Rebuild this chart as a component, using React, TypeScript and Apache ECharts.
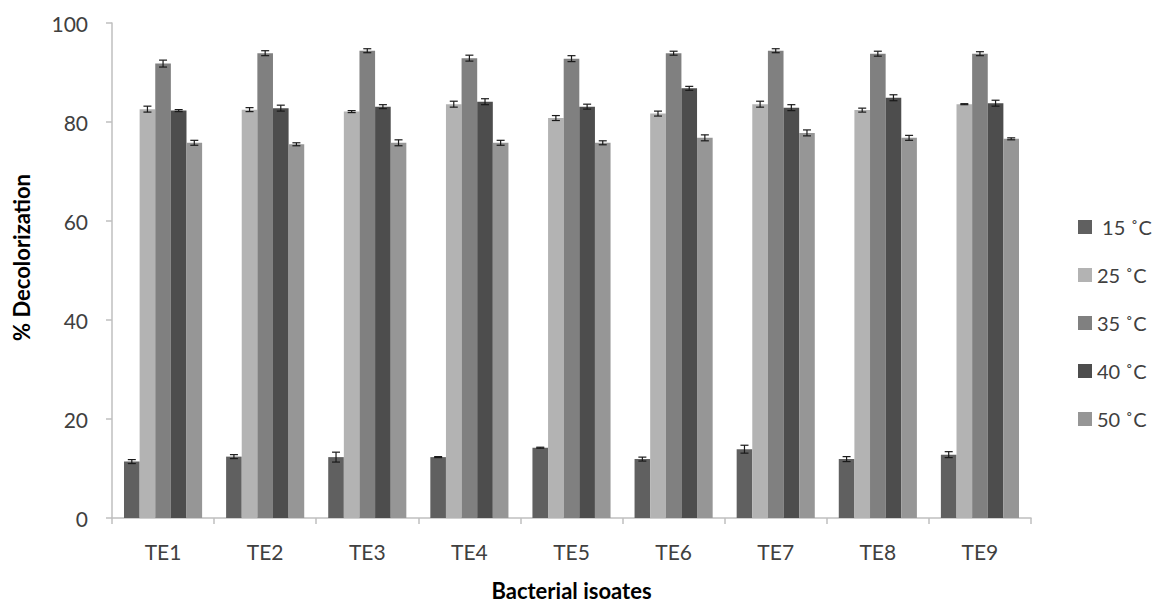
import React, { useEffect, useRef } from "react";
import * as echarts from "echarts";

const categories = ["TE1", "TE2", "TE3", "TE4", "TE5", "TE6", "TE7", "TE8", "TE9"];
const seriesNames = [" 15 ˚C", "25 ˚C", "35 ˚C", "40 ˚C", "50 ˚C"];
const colors = ["#606060", "#b3b3b3", "#808080", "#4d4d4d", "#969696"];

const v15 = [11.4, 12.4, 12.3, 12.3, 14.2, 11.9, 13.9, 11.9, 12.8];
const v25 = [82.6, 82.5, 82.1, 83.6, 80.8, 81.7, 83.6, 82.4, 83.6];
const v35 = [91.8, 93.9, 94.4, 92.9, 92.8, 93.9, 94.4, 93.8, 93.8];
const v40 = [82.3, 82.8, 83.1, 84.1, 83.1, 86.8, 82.9, 84.9, 83.8];
const v50 = [75.8, 75.5, 75.8, 75.8, 75.8, 76.8, 77.8, 76.8, 76.6];

const e15 = [0.4, 0.4, 1.0, 0.1, 0.1, 0.4, 0.8, 0.5, 0.6];
const e25 = [0.6, 0.4, 0.2, 0.6, 0.5, 0.5, 0.6, 0.4, 0.1];
const e35 = [0.7, 0.5, 0.4, 0.6, 0.6, 0.4, 0.4, 0.5, 0.4];
const e40 = [0.2, 0.6, 0.4, 0.6, 0.5, 0.4, 0.6, 0.6, 0.6];
const e50 = [0.5, 0.3, 0.6, 0.5, 0.4, 0.6, 0.6, 0.5, 0.2];

const yTicks = { min: 0, max: 100, interval: 20 };

const values = [v15, v25, v35, v40, v50];
const errors = [e15, e25, e35, e40, e50];

const FONT = "Lato";
const GAP = 0.235;

export default function App() {
  const ref = useRef<HTMLDivElement>(null);
  useEffect(() => {
    if (!ref.current) return;
    const chart = echarts.init(ref.current, undefined, { renderer: "svg" });
    const n = seriesNames.length;
    const bars = seriesNames.map((name, k) => ({
      name,
      type: "bar",
      data: values[k],
      barGap: "0%",
      barCategoryGap: GAP * 100 + "%",
      itemStyle: { color: colors[k] },
    }));
    const errs = seriesNames.map((name, k) => ({
      name: "err" + k,
      type: "custom",
      z: 5,
      data: categories.map((c, i) => [i, values[k][i], errors[k][i]]),
      encode: { x: 0, y: 1 },
      renderItem: (params: any, api: any) => {
        const xi = api.value(0);
        const v = api.value(1);
        const e = api.value(2);
        const band = api.size([1, 0])[0];
        const group = band * (1 - GAP);
        const bw = group / n;
        const c = api.coord([xi, v]);
        const cx = c[0] - group / 2 + bw * (k + 0.5);
        const top = api.coord([xi, v + e])[1];
        const bot = api.coord([xi, v - e])[1];
        const cap = 4;
        const st = { stroke: "#1a1a1a", lineWidth: 1.2 };
        return {
          type: "group",
          children: [
            { type: "line", shape: { x1: cx, y1: top, x2: cx, y2: bot }, style: st },
            { type: "line", shape: { x1: cx - cap, y1: top, x2: cx + cap, y2: top }, style: st },
            { type: "line", shape: { x1: cx - cap, y1: bot, x2: cx + cap, y2: bot }, style: st },
          ],
        };
      },
    }));
    chart.setOption({
      animation: false,
      textStyle: { fontFamily: FONT },
      grid: { left: 112, right: 132, top: 23, bottom: 86, outerBoundsMode: "none", containLabel: false },
      legend: {
        data: seriesNames,
        orient: "vertical",
        left: 1073,
        top: 212,
        itemWidth: 14,
        itemHeight: 14,
        itemGap: 28,
        textStyle: { fontFamily: FONT, fontSize: 20, color: "#404040", lineHeight: 20 },
        icon: "rect",
      },
      xAxis: {
        type: "category",
        data: categories,
        axisLine: { lineStyle: { color: "#bfbfbf", width: 1.5 } },
        axisTick: { show: true, length: 6, lineStyle: { color: "#bfbfbf", width: 1.5 } },
        axisLabel: { fontFamily: FONT, fontSize: 21, color: "#404040", margin: 23 },
        name: "Bacterial isoates",
        nameLocation: "middle",
        nameGap: 60,
        nameTextStyle: { fontFamily: FONT, fontSize: 22, fontWeight: "bold", color: "#000", lineHeight: 24 },
      },
      yAxis: {
        type: "value",
        min: yTicks.min,
        max: yTicks.max,
        interval: yTicks.interval,
        splitLine: { show: false },
        axisLine: { show: true, lineStyle: { color: "#bfbfbf", width: 1.5 } },
        axisTick: { show: true, length: 6, lineStyle: { color: "#bfbfbf", width: 1.5 } },
        axisLabel: { fontFamily: FONT, fontSize: 21, color: "#404040", margin: 24 },
        name: "% Decolorization",
        nameLocation: "middle",
        nameGap: 80,
        nameTextStyle: { fontFamily: FONT, fontSize: 22, fontWeight: "bold", color: "#000", padding: [0, 0, 0, 26] },
      },
      series: [...bars, ...errs],
    });
    return () => chart.dispose();
  }, []);
  return <div ref={ref} style={{ width: 1163, height: 604, position: "absolute", left: 0, top: 0 }} />;
}
